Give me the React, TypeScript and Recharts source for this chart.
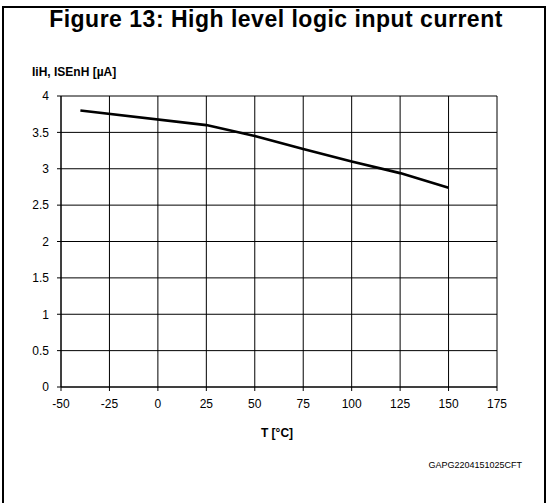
import React from "react";
import { LineChart, Line, XAxis, YAxis, CartesianGrid } from "recharts";

const temperatures = [-40, 25, 50, 75, 100, 125, 150];
const currents = [3.8, 3.6, 3.45, 3.27, 3.1, 2.94, 2.74];
const xTicks = [-50, -25, 0, 25, 50, 75, 100, 125, 150, 175];
const yTicks = [0, 0.5, 1, 1.5, 2, 2.5, 3, 3.5, 4];

const data = temperatures.map((t, i) => ({ t, i: currents[i] }));

const FONT = "'Liberation Sans', Arial, Helvetica, sans-serif";

export default function App() {
  return (
    <div
      style={{
        position: "absolute",
        left: 0,
        top: 0,
        width: 553,
        height: 503,
        overflow: "hidden",
        background: "#fff",
        fontFamily: FONT,
      }}
    >
      <LineChart
        width={553}
        height={503}
        data={data}
        margin={{ top: 96, right: 56, bottom: 86, left: 11 }}
      >
        <CartesianGrid stroke="#000" strokeWidth={1} />
        <XAxis
          dataKey="t"
          type="number"
          domain={[-50, 175]}
          ticks={xTicks}
          interval={0}
          height={30}
          tickSize={4}
          tickMargin={8}
          axisLine={{ stroke: "#000" }}
          tickLine={{ stroke: "#000" }}
          tick={{ fill: "#000", fontSize: 12, fontFamily: FONT }}
        />
        <YAxis
          type="number"
          domain={[0, 4]}
          ticks={yTicks}
          interval={0}
          width={50}
          tickSize={4}
          tickMargin={8}
          axisLine={{ stroke: "#000" }}
          tickLine={{ stroke: "#000" }}
          tick={{ fill: "#000", fontSize: 12, fontFamily: FONT }}
        />
        <Line
          dataKey="i"
          type="linear"
          stroke="#000"
          strokeWidth={2.6}
          dot={false}
          isAnimationActive={false}
        />
      </LineChart>
      <div
        style={{
          position: "absolute",
          left: 2,
          top: 6,
          width: 540,
          height: 600,
          borderTop: "2px solid #000",
          borderLeft: "2px solid #000",
          borderRight: "2px solid #000",
          pointerEvents: "none",
        }}
      />
      <svg
        width={553}
        height={503}
        style={{ position: "absolute", left: 0, top: 0, pointerEvents: "none" }}
      >
        <text
          x={276}
          y={27}
          textAnchor="middle"
          fontSize={23}
          letterSpacing={0.5}
          fontWeight="bold"
          fontFamily={FONT}
          fill="#000"
        >
          Figure 13: High level logic input current
        </text>
        <text x={32} y={76} fontSize={12} fontWeight="bold" fontFamily={FONT} fill="#000">
          IiH, ISEnH [µA]
        </text>
        <text
          x={277}
          y={437}
          textAnchor="middle"
          fontSize={12}
          fontWeight="bold"
          fontFamily={FONT}
          fill="#000"
        >
          T [°C]
        </text>
        <text x={522} y={468} textAnchor="end" fontSize={9} fontFamily={FONT} fill="#000">
          GAPG2204151025CFT
        </text>
      </svg>
    </div>
  );
}
